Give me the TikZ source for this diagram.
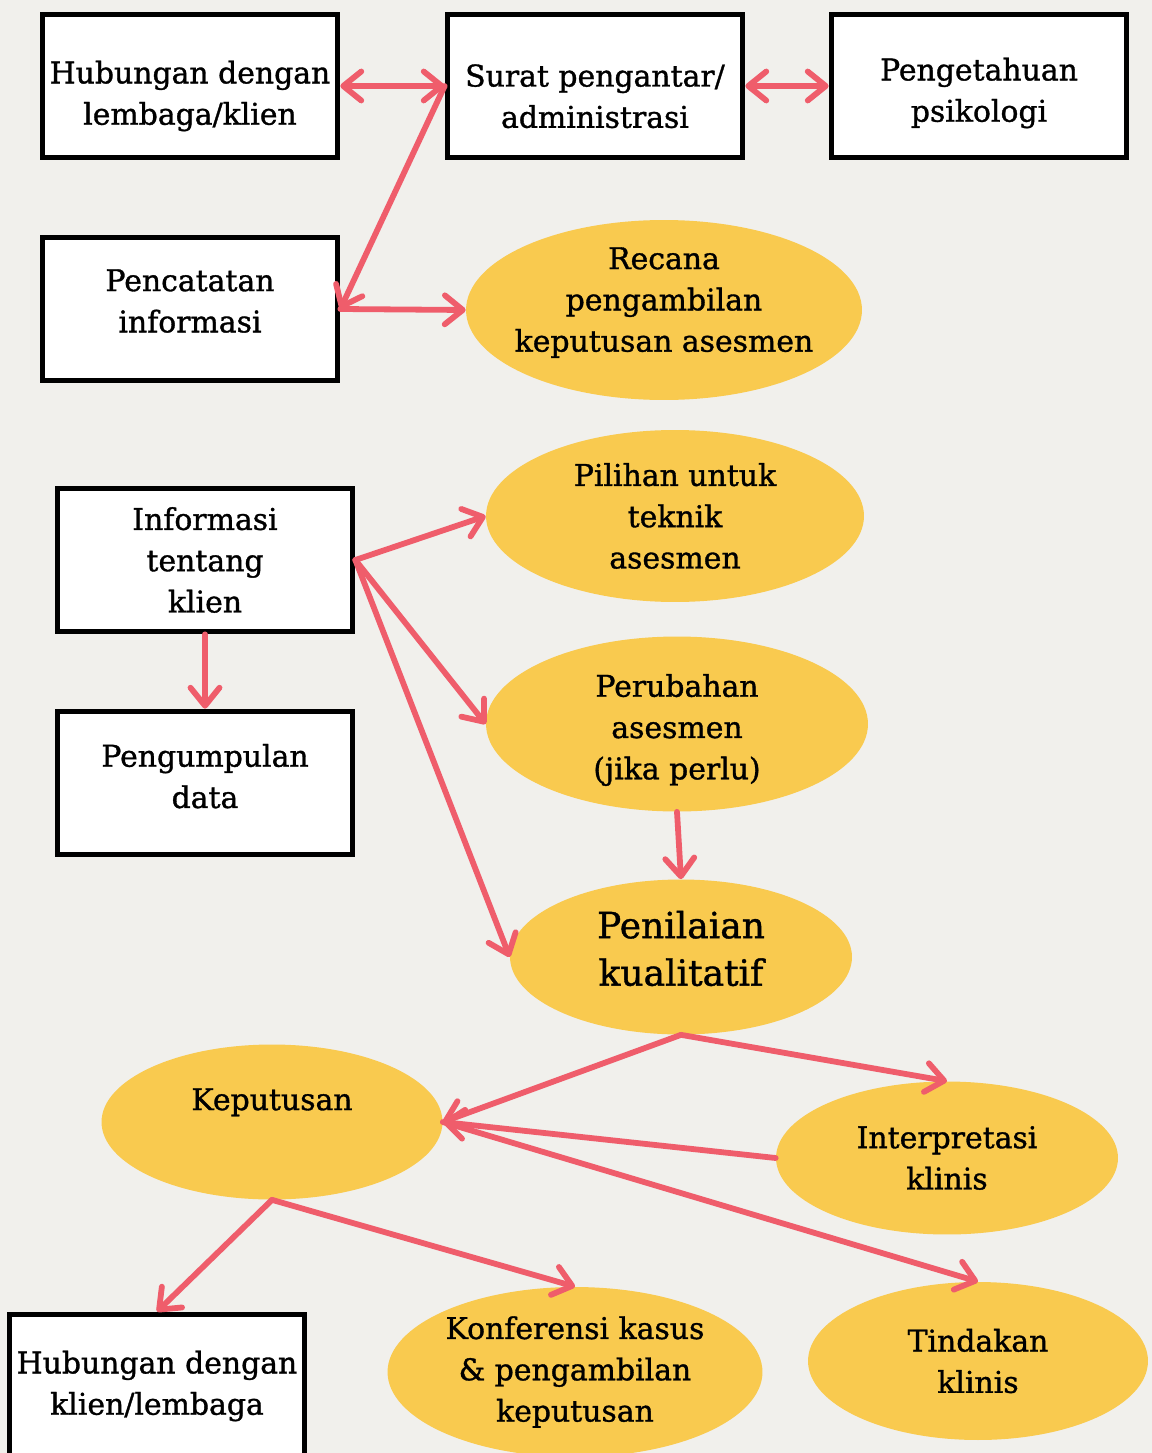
\documentclass[tikz,border=0pt]{standalone}
\usepackage{fontspec}
\setmainfont[FakeBold=1.1]{DejaVu Serif}
\usetikzlibrary{arrows.meta, shapes.geometric, positioning}
\definecolor{fcCream}{HTML}{F1F0EC}
\definecolor{fcYellow}{HTML}{F9CA4F}
\definecolor{fcRed}{HTML}{EF5D6B}
\tikzset{
  lbl/.style     = {font=\fontsize{17}{23.5}\selectfont},
  biglbl/.style  = {font=\fontsize{20.5}{27}\selectfont},
  box/.style     = {draw=black, fill=white, line width=3.3pt, minimum width=5.9cm,
                    minimum height=2.86cm, align=center, lbl},
  blob/.style    = {ellipse, fill=fcYellow, inner xsep=-0.5cm, inner ysep=-0.3cm,
                    align=center, lbl},
  link/.style    = {fcRed, line width=3.3pt, line cap=round, line join=round, ->},
  twolink/.style = {link, <->},
}
\begin{document}
\begin{tikzpicture}[x=0.02cm, y=-0.02cm,
    >={Straight Barb[length=3.6mm, width=5.8mm, round]}]
  \useasboundingbox (0,0) rectangle (1152,1453);
  \clip (0,0) rectangle (1152,1453);
  \fill[fcCream] (0,0) rectangle (1152,1453);
  \node[box, text height=47.8pt] (hubA)  at (190,86)   {Hubungan dengan\\lembaga/klien};
  \node[box, text height=47.8pt] (surat) at (595,86)   {Surat pengantar/\\administrasi};
  \node[box, text height=44.4pt] (psiko) at (979,86)   {Pengetahuan\\psikologi};
  \node[box, text depth=9.3pt] (catat)   at (190,309)  {Pencatatan\\informasi};
  \node[box] (info)   at (205,560)  {Informasi\\tentang\\klien};
  \node[box, text depth=8pt] (kumpul)    at (205,783)  {Pengumpulan\\data};
  \node[box] (hubB)   at (157,1386) {Hubungan dengan\\klien/lembaga};
  \node[blob, text depth=12pt, minimum width=7.92cm, minimum height=3.6cm] (recana) at (664,310)
    {Recana\\pengambilan\\keputusan asesmen};
  \node[blob, minimum width=7.56cm, minimum height=3.44cm] (pilihan) at (675,516)
    {Pilihan untuk\\teknik\\asesmen};
  \node[blob, text height=66.7pt, minimum width=7.64cm, minimum height=3.5cm] (ubah) at (677,724)
    {Perubahan\\asesmen\\(jika perlu)};
  \node[blob, biglbl, text depth=10pt, minimum width=6.84cm, minimum height=3.1cm] (nilai) at (681,957)
    {Penilaian\\kualitatif};
  \node[blob, text depth=26pt, minimum width=6.82cm, minimum height=3.1cm] (putus) at (272,1122)
    {Keputusan};
  \node[blob, minimum width=6.84cm, minimum height=3.06cm] (interp)  at (947,1158)
    {Interpretasi\\klinis};
  \node[blob, minimum width=7.5cm, minimum height=3.4cm]   (konf)    at (575,1372)
    {Konferensi kasus\\\& pengambilan\\keputusan};
  \node[blob, minimum width=6.8cm, minimum height=3.16cm]  (tindak)  at (978,1361)
    {Tindakan\\klinis};
  \draw[twolink] (hubA.east) -- (surat.west);
  \draw[twolink] (surat.east) -- (psiko.west);
  \draw[link] (surat.west) -- (catat.east);
  \draw[link] (catat.east) -- (recana.west);
  \draw[link] (info.east) -- (pilihan.west);
  \draw[link] (info.east) -- (ubah.west);
  \draw[link] (info.east) -- (nilai.west);
  \draw[link] (info.south) -- (kumpul.north);
  \draw[link] (ubah.south) -- (nilai.north);
  \draw[link] (nilai.south) -- (interp.north);
  \draw[link] (nilai.south) -- (putus.east);
  \draw[link] (interp.west) -- (putus.east);
  \draw[link] (putus.east) -- (tindak.north);
  \draw[link] (putus.south) -- (hubB.north);
  \draw[link] (putus.south) -- (konf.north);
\end{tikzpicture}
\end{document}
